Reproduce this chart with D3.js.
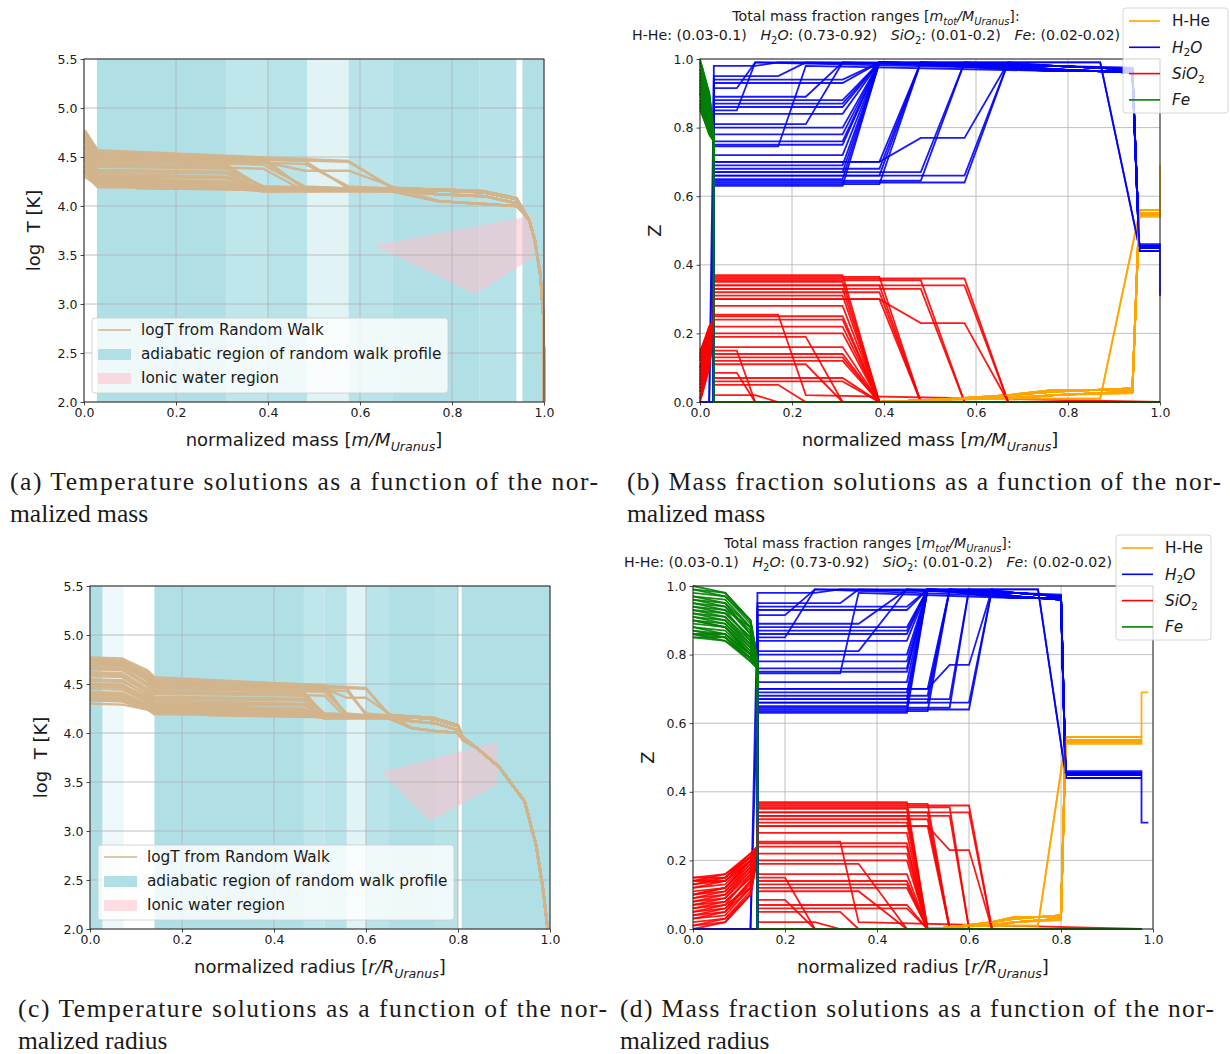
<!DOCTYPE html>
<head>
  <meta charset="utf-8">
  <script src="https://d3js.org/d3.v7.min.js"></script>
<style>
body { margin:0; background:#fff; }
svg text { font-family: "DejaVu Sans", sans-serif; fill: #1a1a1a; white-space: pre; }
.caption { font-family: "Liberation Serif", "DejaVu Serif", serif; font-size: 25.5px; }
</style>
</head>

<body>
<script>
// ---------------- data ----------------
// layer boundaries shared by the random-walk profiles (mass and radius of each node)
var nodeMass   = [0, 0.004, 0.02, 0.03, 0.08, 0.12, 0.17, 0.23, 0.31, 0.39, 0.48, 0.575, 0.67, 0.77, 0.87, 0.94, 0.955, 1.0, 1.0];
var nodeRadius = [0, 0.07, 0.125, 0.14, 0.2, 0.265, 0.32, 0.36, 0.465, 0.51, 0.558, 0.6, 0.65, 0.7, 0.75, 0.8, 0.81, 0.975, 0.99];

// outer temperature tail, common to all profiles
var tailMass   = [0.968, 0.98, 0.992, 0.999, 1.0, 1.0];
var tailRadius = [0.84, 0.89, 0.945, 0.97, 0.985, 0.995];
var tailLogT   = [3.85, 3.65, 3.3, 2.85, 2.4, 2.0];

// Fe and SiO2 in the core, at nodes 0..3, one row per profile
var coreFe = [
  [0.99,0.97,0.90,0.78],[0.97,0.95,0.86,0.77],[0.95,0.93,0.88,0.78],[0.92,0.90,0.82,0.77],
  [0.90,0.88,0.80,0.76],[0.96,0.94,0.87,0.78],[0.98,0.97,0.89,0.79],[0.86,0.85,0.79,0.76],
  [0.88,0.87,0.80,0.76],[0.93,0.91,0.84,0.77],[0.85,0.84,0.78,0.76],[0.91,0.89,0.82,0.77],
  [0.94,0.92,0.85,0.77],[0.87,0.86,0.80,0.76],[0.89,0.88,0.81,0.76],[0.96,0.95,0.88,0.78],
  [0.92,0.91,0.83,0.77],[0.86,0.84,0.79,0.76],[0.99,0.98,0.90,0.79],[0.90,0.89,0.81,0.76],
  [0.95,0.94,0.86,0.78],[0.97,0.96,0.88,0.78],[0.88,0.86,0.80,0.76],[0.91,0.90,0.83,0.77],
  [0.85,0.85,0.78,0.76],[0.93,0.92,0.85,0.77],[0.87,0.85,0.79,0.76],[0.90,0.88,0.80,0.77],
  [1.00,0.98,0.90,0.79],[0.86,0.86,0.79,0.76],[0.94,0.93,0.84,0.77]
];
var coreSiO2 = [
  [0.01,0.03,0.10,0.22],[0.03,0.05,0.14,0.23],[0.05,0.07,0.12,0.22],[0.08,0.10,0.18,0.23],
  [0.10,0.12,0.20,0.24],[0.04,0.06,0.13,0.22],[0.02,0.03,0.11,0.21],[0.14,0.15,0.21,0.24],
  [0.12,0.13,0.20,0.24],[0.07,0.09,0.16,0.23],[0.15,0.16,0.22,0.24],[0.09,0.11,0.18,0.23],
  [0.06,0.08,0.15,0.23],[0.13,0.14,0.20,0.24],[0.11,0.12,0.19,0.24],[0.04,0.05,0.12,0.22],
  [0.08,0.09,0.17,0.23],[0.14,0.16,0.21,0.24],[0.01,0.02,0.10,0.21],[0.10,0.11,0.19,0.24],
  [0.05,0.06,0.14,0.22],[0.03,0.04,0.12,0.22],[0.12,0.14,0.20,0.24],[0.09,0.10,0.17,0.23],
  [0.15,0.15,0.22,0.24],[0.07,0.08,0.15,0.23],[0.13,0.15,0.21,0.24],[0.10,0.12,0.20,0.23],
  [0.00,0.02,0.10,0.21],[0.14,0.14,0.21,0.24],[0.06,0.07,0.16,0.23]
];
// node where H2O starts to rise out of the core
var waterStart = [3,3,3,3,3,3,2, 3,3,3,2,3,3,3,3,3,3,3,3,3,3,3, 3,3,3,3, 3,3, 3,3,3];

// mantle composition [node, H2O, SiO2] for each profile
var mantle = [
  [[3,0.98,0.02],[5,0.98,0.02],[6,0.99,0]],
  [[3,0.85,0.15],[4,0.85,0.15],[5,0.99,0]],
  [[3,0.95,0.05],[6,0.95,0.05],[7,0.99,0]],
  [[3,0.745,0.255],[6,0.745,0.255],[7,0.98,0.02]],
  [[3,0.81,0.19],[7,0.81,0.19],[8,0.99,0]],
  [[3,0.89,0.11],[7,0.89,0.11],[8,0.99,0]],
  [[3,0.915,0.085],[4,0.915,0.085],[5,0.99,0]],
  [[3,0.63,0.37],[8,0.63,0.37],[9,0.99,0]],
  [[3,0.65,0.35],[8,0.65,0.35],[9,0.99,0]],
  [[3,0.67,0.33],[8,0.67,0.33],[9,0.99,0]],
  [[3,0.69,0.31],[8,0.69,0.31],[9,0.99,0]],
  [[3,0.72,0.28],[8,0.72,0.28],[9,0.99,0]],
  [[3,0.75,0.25],[8,0.75,0.25],[9,0.99,0]],
  [[3,0.76,0.24],[8,0.76,0.24],[9,0.99,0]],
  [[3,0.78,0.22],[8,0.78,0.22],[9,0.99,0]],
  [[3,0.80,0.20],[8,0.80,0.20],[9,0.99,0]],
  [[3,0.84,0.16],[8,0.84,0.16],[9,0.99,0]],
  [[3,0.86,0.14],[8,0.86,0.14],[9,0.99,0]],
  [[3,0.87,0.13],[8,0.87,0.13],[9,0.99,0]],
  [[3,0.88,0.12],[8,0.88,0.12],[9,0.99,0]],
  [[3,0.93,0.07],[8,0.93,0.07],[9,0.99,0]],
  [[3,0.94,0.06],[8,0.94,0.06],[9,0.99,0]],
  [[3,0.635,0.365],[9,0.635,0.365],[10,0.99,0]],
  [[3,0.66,0.34],[9,0.66,0.34],[10,0.99,0]],
  [[3,0.68,0.32],[9,0.68,0.32],[10,0.99,0]],
  [[3,0.70,0.30],[9,0.70,0.30],[10,0.99,0]],
  [[3,0.645,0.355],[10,0.645,0.355],[11,0.99,0]],
  [[3,0.67,0.33],[10,0.67,0.33],[11,0.99,0]],
  [[3,0.64,0.36],[11,0.64,0.36],[12,0.99,0]],
  [[3,0.66,0.34],[11,0.66,0.34],[12,0.99,0]],
  [[3,0.70,0.30],[9,0.70,0.30],[10,0.77,0.23],[11,0.77,0.23],[12,0.99,0]]
];

// log T [node, value] for each profile
var logT = [
  [[0,4.34],[1,4.33],[2,4.25],[3,4.21],[5,4.20],[6,4.18],[12,4.17],[13,4.16],[14,4.14],[15,4.07],[16,3.95]],
  [[0,4.40],[1,4.39],[2,4.27],[3,4.22],[4,4.21],[5,4.18],[12,4.15],[13,4.05],[14,4.02],[15,4.00],[16,3.93]],
  [[0,4.38],[1,4.37],[2,4.28],[3,4.24],[6,4.22],[7,4.18],[12,4.16],[13,4.12],[14,4.10],[15,4.03],[16,3.94]],
  [[0,4.50],[1,4.49],[2,4.36],[3,4.30],[6,4.27],[7,4.19],[12,4.18],[13,4.17],[14,4.15],[15,4.08],[16,3.96]],
  [[0,4.45],[1,4.44],[2,4.32],[3,4.27],[7,4.25],[8,4.18],[12,4.17],[13,4.16],[14,4.14],[15,4.07],[16,3.95]],
  [[0,4.36],[1,4.35],[2,4.26],[3,4.22],[7,4.20],[8,4.17],[12,4.15],[13,4.05],[14,4.02],[15,4.00],[16,3.93]],
  [[0,4.33],[1,4.32],[2,4.24],[3,4.20],[4,4.20],[5,4.18],[12,4.16],[13,4.12],[14,4.10],[15,4.03],[16,3.94]],
  [[0,4.72],[1,4.71],[2,4.53],[3,4.45],[8,4.42],[9,4.18],[12,4.18],[13,4.17],[14,4.15],[15,4.08],[16,3.96]],
  [[0,4.65],[1,4.64],[2,4.48],[3,4.40],[8,4.38],[9,4.20],[12,4.17],[13,4.16],[14,4.14],[15,4.07],[16,3.95]],
  [[0,4.60],[1,4.59],[2,4.43],[3,4.35],[8,4.33],[9,4.17],[12,4.16],[13,4.12],[14,4.10],[15,4.03],[16,3.94]],
  [[0,4.68],[1,4.67],[2,4.50],[3,4.42],[8,4.40],[9,4.19],[12,4.17],[13,4.16],[14,4.14],[15,4.07],[16,3.95]],
  [[0,4.55],[1,4.54],[2,4.38],[3,4.30],[8,4.28],[9,4.16],[12,4.15],[13,4.05],[14,4.02],[15,4.00],[16,3.93]],
  [[0,4.58],[1,4.57],[2,4.41],[3,4.33],[8,4.30],[9,4.17],[12,4.18],[13,4.17],[14,4.15],[15,4.08],[16,3.96]],
  [[0,4.50],[1,4.49],[2,4.36],[3,4.28],[8,4.25],[9,4.15],[12,4.17],[13,4.16],[14,4.14],[15,4.07],[16,3.95]],
  [[0,4.47],[1,4.46],[2,4.33],[3,4.25],[8,4.23],[9,4.16],[12,4.16],[13,4.12],[14,4.10],[15,4.03],[16,3.94]],
  [[0,4.62],[1,4.61],[2,4.45],[3,4.37],[8,4.35],[9,4.20],[12,4.17],[13,4.16],[14,4.14],[15,4.07],[16,3.95]],
  [[0,4.42],[1,4.41],[2,4.30],[3,4.23],[8,4.21],[9,4.15],[12,4.15],[13,4.05],[14,4.02],[15,4.00],[16,3.93]],
  [[0,4.53],[1,4.52],[2,4.39],[3,4.31],[8,4.29],[9,4.18],[12,4.18],[13,4.17],[14,4.15],[15,4.08],[16,3.96]],
  [[0,4.48],[1,4.47],[2,4.34],[3,4.26],[8,4.24],[9,4.16],[12,4.17],[13,4.16],[14,4.14],[15,4.07],[16,3.95]],
  [[0,4.40],[1,4.39],[2,4.29],[3,4.22],[8,4.20],[9,4.15],[12,4.16],[13,4.12],[14,4.10],[15,4.03],[16,3.94]],
  [[0,4.36],[1,4.35],[2,4.27],[3,4.21],[8,4.20],[9,4.16],[12,4.17],[13,4.16],[14,4.14],[15,4.07],[16,3.95]],
  [[0,4.30],[1,4.29],[2,4.24],[3,4.19],[8,4.18],[9,4.15],[12,4.15],[13,4.05],[14,4.02],[15,4.00],[16,3.93]],
  [[0,4.75],[1,4.74],[2,4.62],[3,4.55],[9,4.49],[10,4.17],[12,4.18],[13,4.17],[14,4.15],[15,4.08],[16,3.96]],
  [[0,4.70],[1,4.69],[2,4.57],[3,4.50],[9,4.46],[10,4.18],[12,4.17],[13,4.16],[14,4.14],[15,4.07],[16,3.95]],
  [[0,4.70],[1,4.69],[2,4.54],[3,4.47],[9,4.42],[10,4.20],[12,4.16],[13,4.12],[14,4.10],[15,4.03],[16,3.94]],
  [[0,4.66],[1,4.65],[2,4.50],[3,4.43],[9,4.38],[10,4.15],[12,4.17],[13,4.16],[14,4.14],[15,4.07],[16,3.95]],
  [[0,4.74],[1,4.73],[2,4.59],[3,4.52],[10,4.46],[11,4.18],[12,4.17],[13,4.16],[14,4.14],[15,4.07],[16,3.95]],
  [[0,4.70],[1,4.69],[2,4.55],[3,4.48],[10,4.43],[11,4.20],[12,4.18],[13,4.17],[14,4.15],[15,4.08],[16,3.96]],
  [[0,4.77],[1,4.76],[2,4.64],[3,4.57],[11,4.46],[12,4.18],[13,4.17],[14,4.15],[15,4.08],[16,3.96]],
  [[0,4.73],[1,4.72],[2,4.60],[3,4.53],[11,4.45],[12,4.19],[13,4.16],[14,4.14],[15,4.07],[16,3.95]],
  [[0,4.72],[1,4.71],[2,4.57],[3,4.50],[9,4.45],[10,4.36],[11,4.36],[12,4.20],[13,4.05],[14,4.02],[15,4.00],[16,3.93]]
];

// envelope variants: H2O and H-He [node, value]
var envH2O = [
  [[13,0.98],[15,0.97],[16,0.45],[17,0.45]],
  [[13,0.97],[15,0.96],[16,0.44],[17,0.44]],
  [[13,0.99],[14,0.99],[16,0.45],[17,0.45]],
  [[13,0.98],[15,0.975],[16,0.46],[17,0.46],[17,0.31],[18,0.31]],
  [[13,0.965],[15,0.965],[16,0.455],[17,0.455]]
];
var envHHe = [
  [[9,0],[10,0.005],[11,0.01],[12,0.01],[13,0.02],[15,0.03],[16,0.55],[17,0.55]],
  [[9,0],[10,0.005],[11,0.01],[12,0.02],[13,0.03],[15,0.04],[16,0.56],[17,0.56]],
  [[9,0],[10,0.003],[11,0.008],[12,0.01],[14,0.01],[16,0.55],[17,0.55]],
  [[9,0],[10,0.005],[11,0.01],[12,0.015],[13,0.02],[15,0.025],[16,0.54],[17,0.54],[17,0.69],[18,0.69]],
  [[9,0],[10,0.005],[11,0.012],[12,0.02],[13,0.035],[15,0.035],[16,0.545],[17,0.545]]
];
var envelope = [0,1,0,4,0,1,2, 0,1,4,0,1,0,4,1,0,2,0,1,4,0,1, 0,1,3,4, 0,1, 0,1,4];

// adiabatic regions [start, end, share of profiles]
var spansMass   = [[0.028,0.31,1],[0.31,0.40,0.82],[0.40,0.485,0.9],[0.485,0.575,0.38],[0.575,0.60,0.9],
                   [0.60,0.67,0.86],[0.67,0.86,1],[0.86,0.94,0.92],[0.953,1.0,1]];
var spansRadius = [[0,0.027,1],[0.027,0.073,0.22],[0.14,0.465,1],[0.465,0.51,0.82],[0.51,0.558,0.9],
                   [0.558,0.6,0.38],[0.6,0.65,0.88],[0.65,0.75,1],[0.75,0.80,0.92],[0.808,1.0,1]];

// ionic water region outline [x, logT]
var ionicMass   = [[0.63,3.6],[0.975,3.9],[0.978,3.48],[0.85,3.1]];
var ionicRadius = [[0.633,3.6],[0.887,3.91],[0.887,3.48],[0.739,3.1]];

var species = ["H-He", "H2O", "SiO2", "Fe"];
var xTicks = [0, 0.2, 0.4, 0.6, 0.8, 1.0];
var tTicks = [2.0, 2.5, 3.0, 3.5, 4.0, 4.5, 5.0, 5.5];
var zTicks = [0, 0.2, 0.4, 0.6, 0.8, 1.0];

// ---------------- drawing ----------------
var colors = {"H-He": "orange", "H2O": "blue", "SiO2": "red", "Fe": "green"};
var tan = "#d2b48c", powder = "#b0e0e6", pink = "pink";

var svg = d3.select("body").append("svg")
    .attr("width", 1230)
    .attr("height", 1054);

// write text with italic / subscript parts
function rich(sel, parts, fs) {
  var sub = false;
  parts.forEach(p => {
    var isSub = p[1].indexOf("s") >= 0;
    var t = sel.append("tspan").text(p[0]);
    if (p[1].indexOf("i") >= 0) t.attr("font-style", "italic");
    if (isSub && !sub) t.attr("dy", fs * 0.25);
    if (!isSub && sub) t.attr("dy", -fs * 0.25);
    if (isSub) t.attr("font-size", fs * 0.7);
    sub = isSub;
  });
  return sel;
}

function makePanel(left, top, yDomain) {
  var w = 460, h = 343;
  var x = d3.scaleLinear().domain([0, 1]).range([left, left + w]);
  var y = d3.scaleLinear().domain(yDomain).range([top + h, top]);
  var g = svg.append("g");
  return {x: x, y: y, g: g, left: left, top: top, w: w, h: h};
}

function drawGrid(p, yTicks) {
  var gg = p.g.append("g");
  gg.selectAll(".gx").data(xTicks).join("line")
      .attr("x1", d => p.x(d)).attr("x2", d => p.x(d))
      .attr("y1", p.top).attr("y2", p.top + p.h)
      .attr("stroke", "#b0b0b0").attr("stroke-width", 0.8);
  gg.selectAll(".gy").data(yTicks).join("line")
      .attr("y1", d => p.y(d)).attr("y2", d => p.y(d))
      .attr("x1", p.left).attr("x2", p.left + p.w)
      .attr("stroke", "#b0b0b0").attr("stroke-width", 0.8);
}

function drawAxes(p, yTicks, xParts, yLabel, yLabelX) {
  var ax = p.g.append("g")
      .attr("transform", "translate(0," + (p.top + p.h) + ")")
      .call(d3.axisBottom(p.x).tickValues(xTicks).tickFormat(d3.format(".1f")).tickSize(3.5).tickPadding(3));
  var ay = p.g.append("g")
      .attr("transform", "translate(" + p.left + ",0)")
      .call(d3.axisLeft(p.y).tickValues(yTicks).tickFormat(d3.format(".1f")).tickSize(3.5).tickPadding(3));
  [ax, ay].forEach(a => {
    a.select(".domain").remove();
    a.selectAll("text").attr("font-size", 12.5).attr("fill", "#1a1a1a")
        .attr("font-family", "DejaVu Sans");
    a.selectAll("line").attr("stroke", "#1a1a1a").attr("stroke-width", 0.8);
  });
  p.g.append("rect")
      .attr("x", p.left).attr("y", p.top).attr("width", p.w).attr("height", p.h)
      .attr("fill", "none").attr("stroke", "#1a1a1a").attr("stroke-width", 0.9);
  rich(p.g.append("text")
      .attr("x", p.left + p.w / 2).attr("y", p.top + p.h + 44)
      .attr("text-anchor", "middle").attr("font-size", 18), xParts, 18);
  p.g.append("text")
      .attr("transform", "translate(" + yLabelX + "," + (p.top + p.h / 2) + ") rotate(-90)")
      .attr("text-anchor", "middle").attr("dy", "0.35em").attr("font-size", 18)
      .text(yLabel);
}

var lineGen = d3.line();

function tempPanel(p, nodes, tailX, spans, ionic) {
  p.g.append("g").selectAll("rect").data(spans).join("rect")
      .attr("x", d => p.x(d[0])).attr("width", d => p.x(d[1]) - p.x(d[0]))
      .attr("y", p.top).attr("height", p.h)
      .attr("fill", powder).attr("fill-opacity", d => d[2]);
  p.g.append("path")
      .attr("d", lineGen(ionic.map(d => [p.x(d[0]), p.y(d[1])])) + "Z")
      .attr("fill", pink).attr("fill-opacity", 0.55);
  drawGrid(p, tTicks);
  var curves = logT.map(prof => prof.map(d => [nodes[d[0]], d[1]])
      .concat(tailX.map((v, i) => [v, tailLogT[i]])));
  p.g.append("g").selectAll("path").data(curves).join("path")
      .attr("d", c => lineGen(c.map(d => [p.x(d[0]), p.y(d[1])])))
      .attr("fill", "none").attr("stroke", tan).attr("stroke-width", 2.4)
      .attr("stroke-linejoin", "round").attr("stroke-opacity", 0.95);
}

function profileSeries(i) {
  var fe = coreFe[i].map((v, k) => [k, v]).concat([[3, 0], [17, 0]]);
  var si = coreSiO2[i].map((v, k) => [k, v])
      .concat(mantle[i].map(d => [d[0], d[2]])).concat([[17, 0]]);
  var h2o = [[0, 0], [waterStart[i], 0]]
      .concat(mantle[i].map(d => [d[0], d[1]])).concat(envH2O[envelope[i]]);
  var hhe = [[0, 0]].concat(envHHe[envelope[i]]);
  return {"H-He": hhe, "H2O": h2o, "SiO2": si, "Fe": fe};
}

function zPanel(p, nodes) {
  drawGrid(p, zTicks);
  var lg = p.g.append("g");
  coreFe.forEach((_, i) => {
    var s = profileSeries(i);
    species.forEach(sp => {
      lg.append("path")
          .attr("d", lineGen(s[sp].map(d => [p.x(nodes[d[0]]), p.y(d[1])])))
          .attr("fill", "none").attr("stroke", colors[sp])
          .attr("stroke-width", 1.8).attr("stroke-opacity", 0.9);
    });
  });
}

function tempLegend(p, x0, y0) {
  var g = p.g.append("g");
  g.append("rect").attr("x", x0).attr("y", y0).attr("width", 356).attr("height", 75)
      .attr("rx", 3).attr("fill", "white").attr("fill-opacity", 0.8)
      .attr("stroke", "#cccccc").attr("stroke-width", 0.8);
  g.append("line").attr("x1", x0 + 6).attr("x2", x0 + 39).attr("y1", y0 + 12).attr("y2", y0 + 12)
      .attr("stroke", tan).attr("stroke-width", 1.6);
  g.append("rect").attr("x", x0 + 6).attr("y", y0 + 31).attr("width", 33).attr("height", 11)
      .attr("fill", powder);
  g.append("rect").attr("x", x0 + 6).attr("y", y0 + 55).attr("width", 33).attr("height", 11)
      .attr("fill", pink).attr("fill-opacity", 0.55);
  ["logT from Random Walk", "adiabatic region of random walk profile", "Ionic water region"]
    .forEach((t, i) => {
      g.append("text").attr("x", x0 + 49).attr("y", y0 + 12 + i * 24).attr("dy", "0.35em")
          .attr("font-size", 15.3).text(t);
    });
}

var legendLabels = [[["H-He", "n"]], [["H", "i"], ["2", "s"], ["O", "i"]],
                    [["SiO", "i"], ["2", "s"]], [["Fe", "i"]]];

function zLegend(p, x0, y0, w) {
  var g = p.g.append("g");
  g.append("rect").attr("x", x0).attr("y", y0).attr("width", w).attr("height", 105)
      .attr("rx", 3).attr("fill", "white").attr("fill-opacity", 0.8)
      .attr("stroke", "#cccccc").attr("stroke-width", 0.8);
  species.forEach((sp, i) => {
    var yy = y0 + 13 + i * 26.3;
    g.append("line").attr("x1", x0 + 6).attr("x2", x0 + 37).attr("y1", yy).attr("y2", yy)
        .attr("stroke", colors[sp]).attr("stroke-width", 1.6);
    rich(g.append("text").attr("x", x0 + 49).attr("y", yy).attr("dy", "0.35em")
        .attr("font-size", 15.3), legendLabels[i], 15.3);
  });
}

function zTitle(cx, y0) {
  rich(svg.append("text").attr("x", cx).attr("y", y0).attr("text-anchor", "middle")
      .attr("font-size", 14.2),
    [["Total mass fraction ranges [", "n"], ["m", "i"], ["tot", "si"], ["/M", "i"],
     ["Uranus", "si"], ["]:", "n"]], 14.2);
  rich(svg.append("text").attr("x", cx).attr("y", y0 + 19).attr("text-anchor", "middle")
      .attr("font-size", 14.2),
    [["H-He: (0.03-0.1)   ", "n"], ["H", "i"], ["2", "s"], ["O", "i"], [": (0.73-0.92)   ", "n"],
     ["SiO", "i"], ["2", "s"], [": (0.01-0.2)   ", "n"], ["Fe", "i"], [": (0.02-0.02)", "n"]], 14.2);
}

var massLabel = [["normalized mass [", "n"], ["m/M", "i"], ["Uranus", "si"], ["]", "n"]];
var radiusLabel = [["normalized radius [", "n"], ["r/R", "i"], ["Uranus", "si"], ["]", "n"]];

// (a) temperature vs mass
var pa = makePanel(84, 59, [2.0, 5.5]);
tempPanel(pa, nodeMass, tailMass, spansMass, ionicMass);
drawAxes(pa, tTicks, massLabel, "log  T [K]", 34);
tempLegend(pa, 92, 318);

// (b) mass fractions vs mass
var pb = makePanel(700, 59, [0, 1]);
zPanel(pb, nodeMass);
drawAxes(pb, zTicks, massLabel, "Z", 655);
zLegend(pb, 1123, 8, 105);
zTitle(876, 21);

// (c) temperature vs radius
var pc = makePanel(90, 586, [2.0, 5.5]);
tempPanel(pc, nodeRadius, tailRadius, spansRadius, ionicRadius);
drawAxes(pc, tTicks, radiusLabel, "log  T [K]", 41);
tempLegend(pc, 98, 845);

// (d) mass fractions vs radius
var pd = makePanel(693, 586, [0, 1]);
zPanel(pd, nodeRadius);
drawAxes(pd, zTicks, radiusLabel, "Z", 648);
zLegend(pd, 1116, 535, 95);
zTitle(868, 548);

// captions
var captions = [
  [10, 490, "(a) Temperature solutions as a function of the nor-", "malized mass", 588],
  [627, 490, "(b) Mass fraction solutions as a function of the nor-", "malized mass", 594],
  [18, 1017, "(c) Temperature solutions as a function of the nor-", "malized radius", 589],
  [620, 1017, "(d) Mass fraction solutions as a function of the nor-", "malized radius", 594]
];
captions.forEach(c => {
  svg.append("text").attr("class", "caption").attr("x", c[0]).attr("y", c[1])
      .attr("textLength", c[4]).attr("lengthAdjust", "spacing").text(c[2]);
  svg.append("text").attr("class", "caption").attr("x", c[0]).attr("y", c[1] + 32).text(c[3]);
});
</script>
</body>
